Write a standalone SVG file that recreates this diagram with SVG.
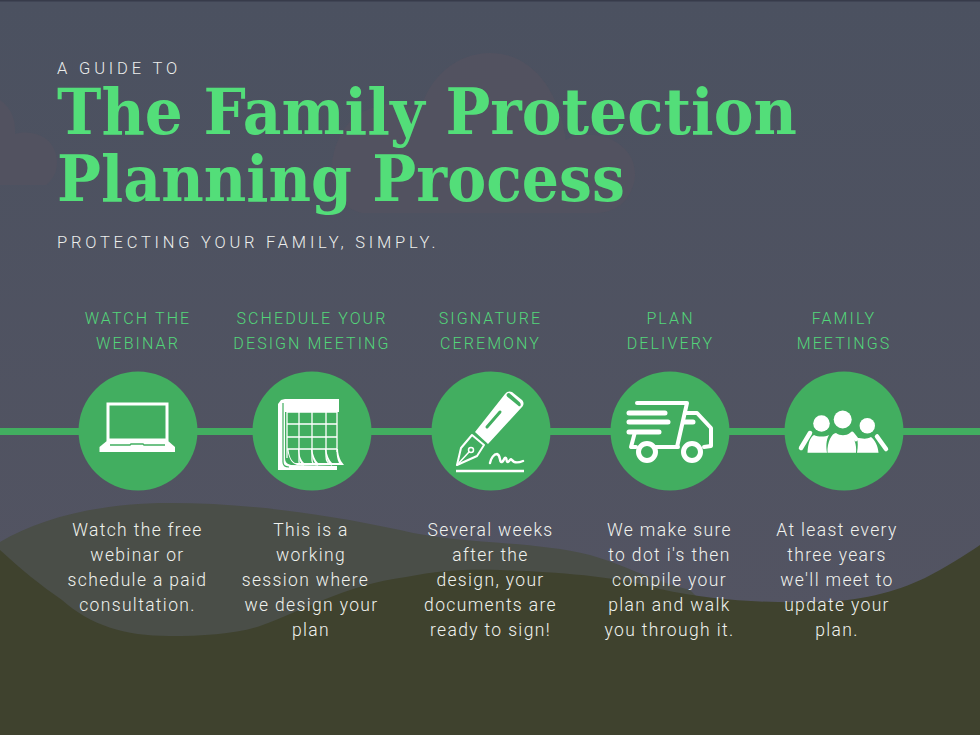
<svg xmlns="http://www.w3.org/2000/svg" width="980" height="735" viewBox="0 0 980 735">
<style>
.sm{font-family:"Roboto","Open Sans","Liberation Sans",sans-serif;fill:#eceeec;font-weight:300}
.ttl{font-family:"DejaVu Serif","Liberation Serif",serif;font-weight:700;font-size:63px;fill:#53de79}
.hd{font-family:"Roboto","Open Sans","Liberation Sans",sans-serif;font-size:16px;letter-spacing:2.1px;fill:#53d67a;text-anchor:middle;font-weight:300}
.bd{font-family:"Roboto","Open Sans","Liberation Sans",sans-serif;font-size:17.5px;letter-spacing:1.35px;fill:#f0f2ee;text-anchor:middle;font-weight:300}
.c{fill:#42ae60}
.w{fill:#fff}
.s{fill:none;stroke:#fff;stroke-linecap:round;stroke-linejoin:round}
.cl{fill:#525260}
</style>
<defs><linearGradient id="bg" x1="0" y1="0" x2="0" y2="1"><stop offset="0" stop-color="#4b5160"/><stop offset="1" stop-color="#535462"/></linearGradient></defs>
<rect width="980" height="735" fill="#4e5261"/>
<rect width="980" height="620" fill="url(#bg)"/>
<rect width="980" height="1.5" fill="#373b4a"/>
<g id="clouds">
<path class="cl" d="M0 100C12 108 16 122 15 134C28 130 46 134 53 147C60 160 58 176 46 185H0Z"/>
<path class="cl" d="M362 213C340 208 332 188 332 165C334 136 352 112 376 107C392 100 408 104 420 112C428 78 456 53 490 53C528 53 558 84 566 140C574 134 588 134 602 136C624 142 636 158 635 176C633 198 618 213 596 213Z"/>
</g>
<g id="hills">
<path fill="#4a4e48" d="M0 542C40 518 100 503 169 503C250 503 330 515 400 530C460 545 530 540 590 555C625 565 650 580 690 590L740 640H300L0 640Z"/>
<path fill="#3f422e" d="M0 550C22 570 40 585 62 600C90 625 125 636 169 636C205 636 235 634 260 626C300 612 345 585 406 577C440 570 470 569 500 570C550 572 610 575 660 589C710 600 760 603 812 602C860 602 895 592 925 578C945 568 965 555 980 545V735H0Z"/>
</g>
<g id="connectors"><rect x="0" y="428" width="980" height="7" fill="#42ae60"/></g>
<g id="heading">
<text class="sm" x="57" y="74" font-size="16.500" letter-spacing="3.850">A GUIDE TO</text>
<text class="ttl" x="57" y="134" textLength="740" lengthAdjust="spacingAndGlyphs">The Family Protection</text>
<text class="ttl" x="57" y="201" textLength="568" lengthAdjust="spacingAndGlyphs">Planning Process</text>
<text class="sm" x="57" y="248" font-size="16.500" letter-spacing="3.770">PROTECTING YOUR FAMILY, SIMPLY.</text>
</g>
<g id="step1">
<text class="hd"><tspan x="138" y="324">WATCH THE</tspan><tspan x="138" y="349">WEBINAR</tspan></text>
<circle class="c" cx="138" cy="431" r="59.5"/>
<rect x="108" y="404" width="59" height="36" fill="none" stroke="#fff" stroke-width="3"/>
<path class="w" d="M108 440H167L175 447V452H99.500V447Z"/>
<path d="M110 445H130L131 444H143L144 445H165" fill="none" stroke="#42ae60" stroke-width="1.400"/>
<text class="bd"><tspan x="137.500" y="536">Watch the free</tspan><tspan x="137.500" y="561">webinar or</tspan><tspan x="137.500" y="586">schedule a paid</tspan><tspan x="137.500" y="611">consultation.</tspan></text>
</g>
<g id="step2">
<text class="hd"><tspan x="312" y="324">SCHEDULE YOUR</tspan><tspan x="312" y="349">DESIGN MEETING</tspan></text>
<circle class="c" cx="312" cy="431" r="59.5"/>
<path class="w" d="M281 400L285 399H339V412H285V458C285 462 287 464 291 465L337 466V470H278V404Z"/>
<path d="M283 403V462C283 465 285 467 289 467" fill="none" stroke="#42ae60" stroke-width="1.200"/>
<g class="s" stroke-width="1.300" style="stroke-linecap:butt">
<path d="M287 412H337M287 424H337M287 437H337M287 449H337M287 412V458M299 412V462C299 464 301 465 304 465M312 412V460C312 463 314 465 318 465M326 412V456C326 460 328 464 332 465M337 412V452"/>
</g>
<path class="w" d="M287 449C289 458 291 463 297 465H344L341 461C339 457 338 453 338 449L336.500 449C336.500 455 337 459 339 463H332C329 460 327 455 326 449H325C325.500 455 327 460 329 463H318C315 460 313 455 312 449H311C311.500 455 313 460 315 463H304C301 460 299 455 299 449H298C298.500 455 299 460 301 463H295C291 461 289 455 288.500 449Z"/>
<text class="bd"><tspan x="311" y="536">This is a</tspan><tspan x="311" y="561">working</tspan><tspan x="305.500" y="586">session where</tspan><tspan x="311.500" y="611">we design your</tspan><tspan x="311" y="636">plan</tspan></text>
</g>
<g id="step3">
<text class="hd"><tspan x="490.500" y="324">SIGNATURE</tspan><tspan x="490.500" y="349">CEREMONY</tspan></text>
<circle class="c" cx="491" cy="431" r="59.5"/>
<path class="w" d="M505 394C507 391 510 391 512 392L522 400C524 402 524 405 522 407L488 444L475 432Z"/>
<path d="M508 396L519 405C520 406 520 404 519 403L510 395C508 393 507 395 508 396Z" fill="#42ae60" stroke="#42ae60" stroke-width="2"/>
<path d="M487 427L500 412" stroke="#42ae60" stroke-width="3" stroke-linecap="round"/>
<path d="M472 435L484 445L477 456L457 465L461 448Z" fill="none" stroke="#fff" stroke-width="2" stroke-linejoin="round"/>
<path d="M457 465L469 452" class="s" stroke-width="1.500"/>
<circle cx="471" cy="450" r="2.500" fill="none" stroke="#fff" stroke-width="1.500"/>
<path class="s" stroke-width="2.400" d="M490 463C491 458 494 454 497 454C501 455 499 463 502 462C504 461 504 457 506 458C507 459 506 462 508 462C510 461 510 458 512 460C514 463 518 463 523 461"/>
<path class="s" stroke-width="2.400" style="stroke-linecap:butt" d="M456 471H524"/>
<text class="bd"><tspan x="490.500" y="536">Several weeks</tspan><tspan x="490.500" y="561">after the</tspan><tspan x="490.500" y="586">design, your</tspan><tspan x="490.500" y="611">documents are</tspan><tspan x="490.500" y="636">ready to sign!</tspan></text>
</g>
<g id="step4">
<text class="hd"><tspan x="670.500" y="324">PLAN</tspan><tspan x="670.500" y="349">DELIVERY</tspan></text>
<circle class="c" cx="670" cy="431" r="59.5"/>
<path class="s" stroke-width="4" d="M637 403H687L677 447H654M635 432L631 447H636M687 413H697L711 428V446L704 447"/>
<path class="s" stroke-width="4" d="M663 447H678"/>
<path class="s" stroke-width="5" d="M629 413H665M629 422H668M629 432H659M684 422H693"/>
<circle cx="647" cy="452" r="8.500" fill="#42ae60" stroke="#fff" stroke-width="5"/>
<circle cx="692" cy="452" r="8.500" fill="#42ae60" stroke="#fff" stroke-width="5"/>
<text class="bd"><tspan x="669.500" y="536">We make sure</tspan><tspan x="669.500" y="561">to dot i's then</tspan><tspan x="669.500" y="586">compile your</tspan><tspan x="669.500" y="611">plan and walk</tspan><tspan x="669.500" y="636">you through it.</tspan></text>
</g>
<g id="step5">
<text class="hd"><tspan x="844" y="324">FAMILY</tspan><tspan x="844" y="349">MEETINGS</tspan></text>
<circle class="c" cx="844" cy="431" r="59.500"/>
<circle class="w" cx="821.500" cy="423.500" r="8.300"/>
<circle class="w" cx="842.700" cy="419.500" r="9"/>
<circle class="w" cx="867.300" cy="425.700" r="7.700"/>
<path class="w" d="M807.500 452.700C808 444 810 437 814 435C818 437 825 437 829 435C826 440 826 447 827 452.700Z"/>
<path class="w" d="M827.500 452.700C827 442 832 433 836 433C840 436 846 436 850 433C854 437 857 445 856 452.700Z"/>
<path class="w" d="M857 452.700C858 447 858 442 857 438C861 438 866 440 871 437C875 440 878 446 878.500 452.700Z"/>
<path class="s" stroke-width="4.500" d="M810 433L801 448M877 436.500L886 449M852 434L856 439"/>
<text class="bd"><tspan x="837" y="536">At least every</tspan><tspan x="837" y="561">three years</tspan><tspan x="837" y="586">we'll meet to</tspan><tspan x="837" y="611">update your</tspan><tspan x="837" y="636">plan.</tspan></text>
</g>
</svg>
